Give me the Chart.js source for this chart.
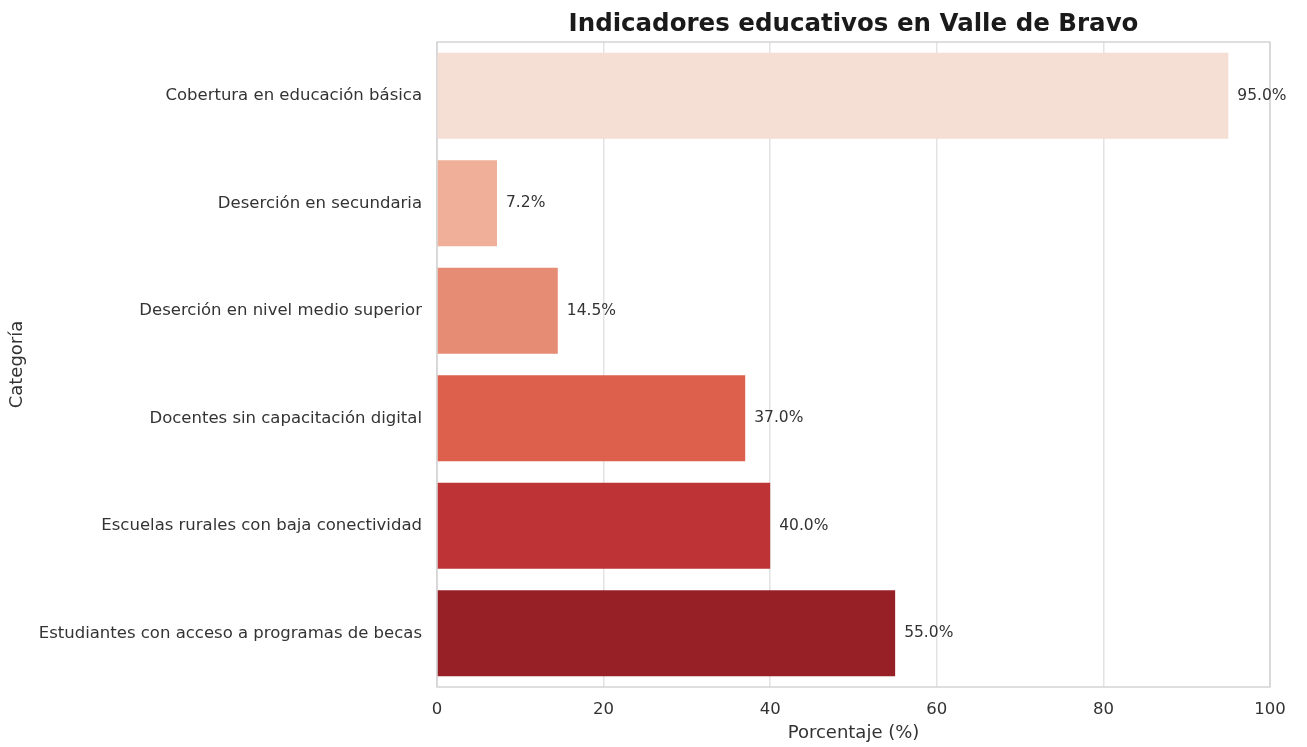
<!DOCTYPE html>
<html>
<head>
<meta charset="utf-8">
<script src="https://cdn.jsdelivr.net/npm/chart.js@4/dist/chart.umd.min.js"></script>
<style>
html,body{margin:0;padding:0;background:#fff;}
#wrap{width:1307px;height:747px;position:relative;}
</style>
</head>
<body>
<div id="wrap"><canvas id="c" width="1307" height="747"></canvas></div>
<script>
const categories = [
  "Cobertura en educación básica",
  "Deserción en secundaria",
  "Deserción en nivel medio superior",
  "Docentes sin capacitación digital",
  "Escuelas rurales con baja conectividad",
  "Estudiantes con acceso a programas de becas"
];
const values = [95.0, 7.2, 14.5, 37.0, 40.0, 55.0];
const barColors = ["#f5ded3", "#efaf99", "#e68c74", "#dc604c", "#be3436", "#971f26"];
const xTicks = [0, 20, 40, 60, 80, 100];
const chartTitle = "Indicadores educativos en Valle de Bravo";

const FONT = "'DejaVu Sans', sans-serif";

const extras = {
  id: 'extras',
  beforeDatasetsDraw(chart) {
    const {ctx, chartArea: a} = chart;
    ctx.save();
    ctx.strokeStyle = '#d4d4d4';
    ctx.lineWidth = 1.5;
    ctx.strokeRect(a.left, a.top, a.right - a.left, a.bottom - a.top);
    ctx.restore();
  },
  afterDatasetsDraw(chart) {
    const {ctx, chartArea: a} = chart;
    const meta = chart.getDatasetMeta(0);
    ctx.save();
    ctx.font = "15.5px " + FONT;
    ctx.fillStyle = '#333333';
    ctx.textAlign = 'left';
    ctx.textBaseline = 'middle';
    meta.data.forEach((el, i) => {
      ctx.fillText(values[i].toFixed(1) + '%', el.x + 9, el.y);
    });
    ctx.font = "bold 24.5px " + FONT;
    ctx.fillStyle = '#1a1a1a';
    ctx.textAlign = 'center';
    ctx.fillText(chartTitle, (a.left + a.right) / 2, 25);
    ctx.restore();
  }
};

new Chart(document.getElementById('c'), {
  type: 'bar',
  data: {
    labels: categories,
    datasets: [{
      data: values,
      backgroundColor: barColors,
      borderWidth: 0,
      barPercentage: 0.8,
      categoryPercentage: 1.0
    }]
  },
  options: {
    indexAxis: 'y',
    responsive: false,
    animation: false,
    layout: { padding: { top: 42, right: 37, left: 0, bottom: 0 } },
    plugins: { legend: { display: false }, tooltip: { enabled: false }, title: { display: false } },
    scales: {
      x: {
        min: 0, max: 100,
        afterBuildTicks(scale) { scale.ticks = xTicks.map(v => ({ value: v })); },
        afterFit(scale) { scale.height = 60; },
        grid: { color: '#e3e3e3', lineWidth: 1.5, drawTicks: false },
        border: { display: false },
        ticks: { padding: 13, color: '#333333', font: { family: FONT, size: 16.5 } },
        title: { display: true, text: 'Porcentaje (%)', color: '#333333', font: { family: FONT, size: 18 }, padding: { top: 0, bottom: 3 } }
      },
      y: {
        afterFit(scale) { scale.width = 437; },
        grid: { display: false, drawTicks: false },
        border: { display: false },
        ticks: { padding: 15, color: '#333333', font: { family: FONT, size: 16.5 } },
        title: { display: true, text: 'Categoría', color: '#333333', font: { family: FONT, size: 18 }, padding: { top: 7, bottom: 0 } }
      }
    }
  },
  plugins: [extras]
});
</script>
</body>
</html>
